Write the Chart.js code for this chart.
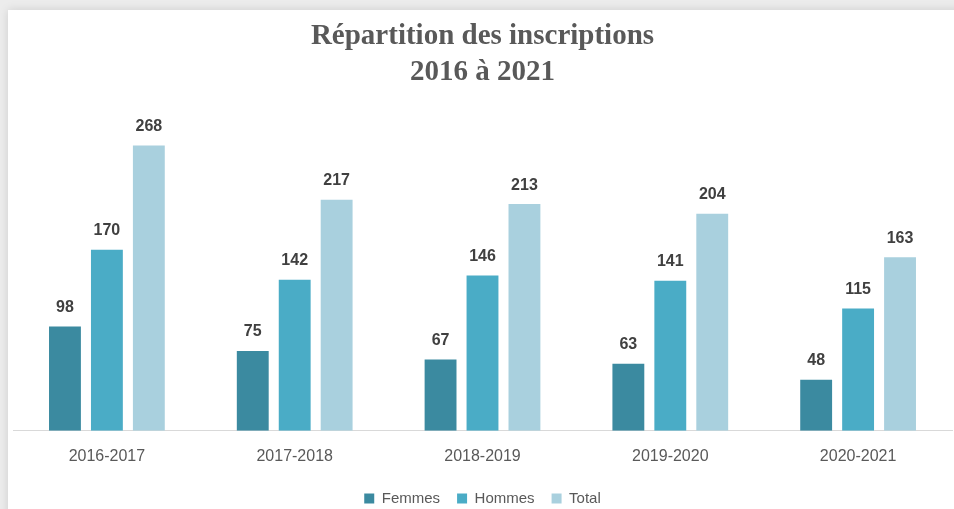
<!DOCTYPE html>
<html>
<head>
<meta charset="utf-8">
<script src="https://cdn.jsdelivr.net/npm/chart.js@4/dist/chart.umd.min.js"></script>
<style>
  html, body { margin: 0; padding: 0; background: #ececec; }
  body { width: 954px; height: 509px; position: relative; overflow: hidden; }
  #card { position: absolute; left: 8px; top: 10px; width: 960px; height: 520px; background: #fff;
          box-shadow: 0 0 9px rgba(0,0,0,0.13); }
  #wrap { position: absolute; left: 0; top: 0; width: 954px; height: 509px; }
</style>
</head>
<body>
<div id="card"></div>
<div id="wrap"><canvas id="graph"></canvas></div>
<script>
const years = ['2016-2017', '2017-2018', '2018-2019', '2019-2020', '2020-2021'];
const femmes = [98, 75, 67, 63, 48];
const hommes = [170, 142, 146, 141, 115];
const total = [268, 217, 213, 204, 163];

// draw the numbers above each bar
const barLabels = {
  id: 'barLabels',
  afterDatasetsDraw(chart) {
    const ctx = chart.ctx;
    ctx.save();
    ctx.font = 'bold 16px "Liberation Sans", Arial, sans-serif';
    ctx.fillStyle = '#404040';
    ctx.textAlign = 'center';
    ctx.textBaseline = 'bottom';
    chart.data.datasets.forEach((ds, i) => {
      chart.getDatasetMeta(i).data.forEach((bar, j) => {
        ctx.fillText(ds.data[j], bar.x, bar.y - 11);
      });
    });
    ctx.restore();
  }
};

let myChart = document.getElementById('graph').getContext('2d');

let inscriptions = new Chart(myChart, {
  type: 'bar',
  data: {
    labels: years,
    datasets: [
      { label: 'Femmes', data: femmes, backgroundColor: '#3b8aa0' },
      { label: 'Hommes', data: hommes, backgroundColor: '#4aacc6' },
      { label: 'Total', data: total, backgroundColor: '#a9d0de' }
    ]
  },
  options: {
    responsive: true,
    maintainAspectRatio: false,
    animation: false,
    datasets: { bar: { categoryPercentage: 0.67, barPercentage: 0.76 } },
    layout: { padding: { left: 13, right: 2, top: 0, bottom: -7 } },
    plugins: {
      title: {
        display: true,
        text: ['Répartition des inscriptions', '2016 à 2021'],
        color: '#595959',
        font: { family: '"Liberation Serif", "DejaVu Serif", serif', size: 29, weight: 'bold', lineHeight: 1.25 },
        padding: { top: 18, bottom: 21 }
      },
      legend: {
        position: 'bottom',
        labels: {
          boxWidth: 10, boxHeight: 10, padding: 17,
          color: '#595959',
          font: { family: '"Liberation Sans", Arial, sans-serif', size: 15 }
        }
      },
      tooltip: { enabled: false }
    },
    scales: {
      x: {
        grid: { display: false },
        border: { display: true, color: '#d9d9d9', width: 1 },
        ticks: { color: '#595959', padding: 8, font: { family: '"Liberation Sans", Arial, sans-serif', size: 16 } }
      },
      y: { display: false, min: 0, max: 300 }
    }
  },
  plugins: [barLabels]
});
</script>
</body>
</html>
